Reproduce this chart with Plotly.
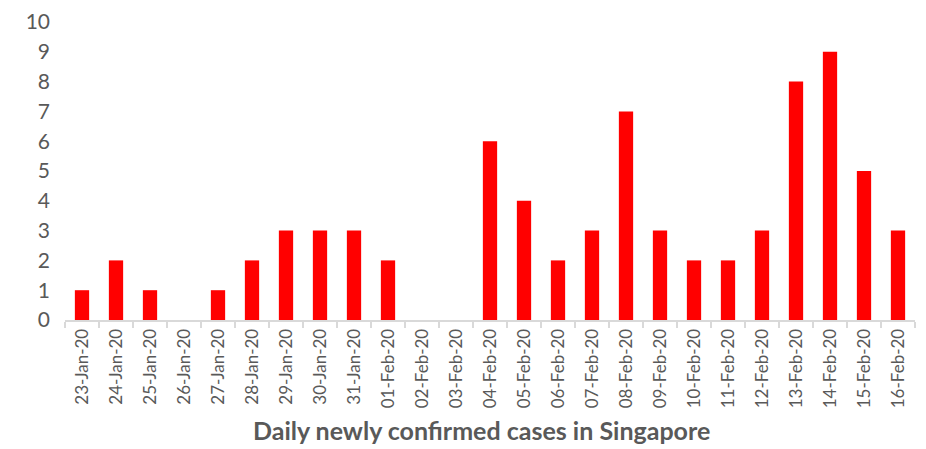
import plotly.graph_objects as go

dates = [
    "23-Jan-20", "24-Jan-20", "25-Jan-20", "26-Jan-20", "27-Jan-20",
    "28-Jan-20", "29-Jan-20", "30-Jan-20", "31-Jan-20", "01-Feb-20",
    "02-Feb-20", "03-Feb-20", "04-Feb-20", "05-Feb-20", "06-Feb-20",
    "07-Feb-20", "08-Feb-20", "09-Feb-20", "10-Feb-20", "11-Feb-20",
    "12-Feb-20", "13-Feb-20", "14-Feb-20", "15-Feb-20", "16-Feb-20",
]
new_cases = [1, 2, 1, 0, 1, 2, 3, 3, 3, 2, 0, 0, 6, 4, 2, 3, 7, 3, 2, 2, 3, 8, 9, 5, 3]
y_ticks = list(range(0, 11))

grey = "#595959"

fig = go.Figure()
fig.add_trace(
    go.Bar(
        x=dates,
        y=new_cases,
        marker_color="#ff0000",
        marker_line_width=0,
    )
)

# page body adds ~8px margin, so the figure is a bit smaller than the window
fig.update_layout(
    width=918,
    height=441,
    margin=dict(l=57, r=11, t=14, b=129, autoexpand=False),
    plot_bgcolor="white",
    paper_bgcolor="white",
    showlegend=False,
    bargap=0.58,
    font=dict(family="Lato", color=grey),
)
fig.update_xaxes(
    type="category",
    tickangle=-90,
    tickfont=dict(size=17, color=grey),
    showline=True,
    linecolor="#d9d9d9",
    linewidth=2,
    ticks="outside",
    tickson="boundaries",
    ticklen=6,
    tickcolor="#d9d9d9",
    tickwidth=1.5,
    showgrid=False,
    automargin=False,
)
fig.update_yaxes(
    range=[0, 10],
    tickvals=y_ticks,
    tickfont=dict(size=21, color=grey),
    showgrid=False,
    zeroline=False,
    ticklabelstandoff=14,
    automargin=False,
)
fig.add_annotation(
    text="<b>Daily newly confirmed cases in Singapore</b>",
    xref="paper",
    yref="paper",
    x=0.49,
    y=-0.369,
    yanchor="middle",
    showarrow=False,
    borderpad=0,
    font=dict(size=25, color=grey),
)

fig.write_html("out.html")
